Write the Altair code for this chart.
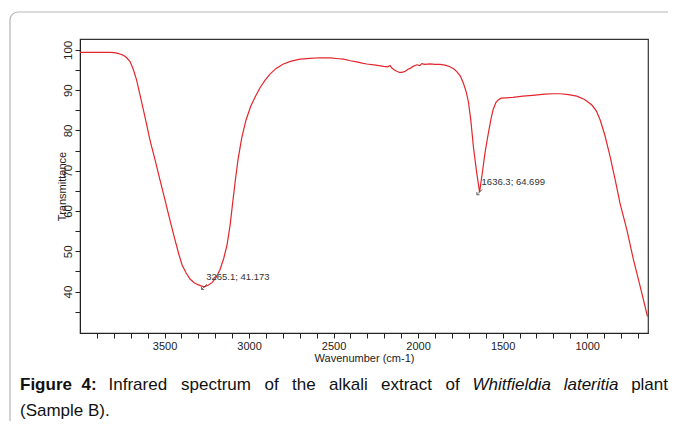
import altair as alt
import pandas as pd

# ---- data ----
wavenumber = [4000, 3900, 3820, 3800, 3780, 3760, 3746, 3725, 3704, 3685, 3665, 3645, 3625, 3605,
              3586, 3556, 3527, 3497, 3468, 3438, 3415, 3396, 3372, 3349, 3325, 3302, 3283, 3265.1,
              3240, 3219, 3195, 3172, 3150, 3130, 3112, 3095, 3080, 3065, 3043, 3018, 2990, 2964,
              2935, 2905, 2876, 2840, 2797, 2750, 2698, 2640, 2581, 2520, 2470, 2442, 2400, 2363,
              2330, 2304, 2250, 2205, 2180, 2166, 2155, 2140, 2126, 2110, 2096, 2075, 2060, 2047,
              2030, 2008, 1990, 1978, 1960, 1929, 1900, 1870, 1840, 1811, 1790, 1771, 1750, 1732,
              1715, 1702, 1688, 1673, 1655, 1636.3, 1620, 1604, 1590, 1580, 1568, 1556, 1540, 1528,
              1509, 1480, 1439, 1380, 1323, 1250, 1200, 1160, 1110, 1061, 1015, 972, 945, 923, 895,
              864, 834, 805, 765, 726, 686, 643]
transmittance = [99.4, 99.4, 99.4, 99.3, 99.2, 98.9, 98.7, 98.1, 97.1, 95.2, 92.5, 88.8, 85.1, 81.3,
                 77.6, 72.7, 67.7, 62.7, 57.7, 52.8, 49.2, 46.6, 44.6, 43.1, 42.2, 41.7, 41.4, 41.173,
                 41.6, 42.2, 43.5, 45.4, 48.2, 51.6, 56.5, 62.7, 68.0, 72.8, 78.2, 82.6, 86.0, 88.3,
                 90.6, 92.5, 94.0, 95.4, 96.5, 97.2, 97.7, 97.9, 98.05, 98.0, 97.8, 97.7, 97.3, 97.0,
                 96.7, 96.5, 96.2, 95.9, 95.8, 96.1, 95.5, 95.0, 94.7, 94.4, 94.4, 94.7, 95.2, 95.4,
                 95.9, 96.3, 96.1, 96.6, 96.4, 96.5, 96.4, 96.4, 96.2, 95.8, 95.3, 94.6, 93.5, 91.7,
                 89.5, 87.0, 82.5, 76.0, 70.0, 64.699, 69.5, 74.5, 78.0, 80.3, 83.0, 85.2, 86.9, 87.5,
                 88.0, 88.1, 88.2, 88.5, 88.7, 89.0, 89.1, 89.1, 88.9, 88.5, 87.7, 86.3, 84.8, 82.6, 78.8,
                 73.5, 67.7, 61.8, 55.3, 47.9, 41.2, 33.8]

peak_wn = [3265.1, 1636.3]
peak_t = [41.173, 64.699]
peak_labels = ["3265.1; 41.173", "1636.3; 64.699"]

x_ticks = list(range(3900, 600, -100))
y_ticks = list(range(35, 101, 5))

caption_words = ["Figure", "4:", "Infrared", "spectrum", "of", "the", "alkali", "extract", "of",
                 "Whitfieldia", "lateritia", "plant"]
caption_line2 = "(Sample B)."

FONT = "Liberation Sans"
W, H = 568, 294

df = pd.DataFrame({"wn": wavenumber, "t": transmittance, "i": list(range(len(wavenumber)))})
peaks = pd.DataFrame({"wn": peak_wn, "t": peak_t, "lab": peak_labels})
one = pd.DataFrame({"a": [0]})

xs = alt.Scale(domain=[640, 4000], reverse=True, nice=False, zero=False)
ys = alt.Scale(domain=[29.7, 102.7], nice=False, zero=False)

x_axis = alt.Axis(values=x_ticks, tickCount=200,
                  labelExpr="datum.value % 500 == 0 ? format(datum.value, 'd') : ''",
                  grid=False, tickSize=5, tickColor="#222", domainColor="#222",
                  labelOverlap=False, labelFlush=False, labelBound=False,
                  labelFont=FONT, labelFontSize=11, labelColor="#222", labelPadding=2,
                  title="Wavenumber (cm-1)", titleFont=FONT, titleFontSize=11,
                  titleFontWeight="normal", titleColor="#222", titlePadding=1)
y_axis = alt.Axis(values=y_ticks, tickCount=200,
                  labelExpr="datum.value % 10 == 0 ? format(datum.value, 'd') : ''",
                  grid=False, tickSize=5, tickColor="#222", domainColor="#222",
                  labelOverlap=False, labelFlush=False, labelBound=False,
                  labelFont=FONT, labelFontSize=11.5, labelColor="#222", labelAngle=270,
                  labelAlign="center", labelBaseline="bottom", labelPadding=2,
                  title="Transmittance", titleFont=FONT, titleFontSize=11,
                  titleFontWeight="normal", titleColor="#222", titleAngle=270,
                  titleX=-18, titleY=H / 2, titleAlign="center", titleBaseline="middle")

line = alt.Chart(df).mark_line(color="#e3262b", strokeWidth=1.2, clip=True).encode(
    x=alt.X("wn:Q", scale=xs, axis=x_axis),
    y=alt.Y("t:Q", scale=ys, axis=y_axis),
    order="i:Q",
)

markers = alt.Chart(peaks).mark_point(
    shape="M -1 1 L 1 -1 M -1 0 L -1 1 L 0 1", size=30, color="#333", strokeWidth=1, filled=False
).encode(x=alt.X("wn:Q", scale=xs), y=alt.Y("t:Q", scale=ys))

labels = alt.Chart(peaks).mark_text(
    align="left", baseline="middle", dx=2, dy=-10, font=FONT, fontSize=9.5, color="#333"
).encode(x=alt.X("wn:Q", scale=xs), y=alt.Y("t:Q", scale=ys), text="lab:N")

# card frame around the figure (page coords minus plot origin 80,39)
card = alt.Chart(one).mark_rect(
    fill="transparent", stroke="#b5b5b5", strokeWidth=1.2, cornerRadius=8
).encode(x=alt.value(-70), x2=alt.value(660), y=alt.value(-27), y2=alt.value(450))


def cap(text, x, y, weight="normal", style="normal", align="left"):
    return alt.Chart(pd.DataFrame({"s": [text]})).mark_text(
        align=align, baseline="middle", font=FONT, fontSize=17, fontWeight=weight,
        fontStyle=style, color="#111"
    ).encode(x=alt.value(x), y=alt.value(y), text="s:N")


# justified first line: word start positions on the page
word_x = [20, 81.5, 108.5, 181, 264.5, 292, 329, 381, 445.5, 472.5, 563.7, 631.1]
cy1, cy2 = 385 - 39, 411 - 39
captions = []
for k, w in enumerate(caption_words):
    weight = "bold" if k < 2 else "normal"
    style = "italic" if k in (9, 10) else "normal"
    if k == len(caption_words) - 1:
        captions.append(cap(w, 668 - 80, cy1, align="right"))
    else:
        captions.append(cap(w, word_x[k] - 80, cy1, weight=weight, style=style))
captions.append(cap(caption_line2, 20 - 80, cy2))

chart = alt.layer(card, line, markers, labels, *captions).properties(
    width=W, height=H,
    autosize=alt.AutoSizeParams(type="none"),
    padding={"left": 72, "top": 31, "right": 20, "bottom": 88},
    background="white",
).configure_view(stroke="#333", strokeWidth=1.2)

chart.save("out.html", embed_options={"renderer": "svg", "actions": False})
